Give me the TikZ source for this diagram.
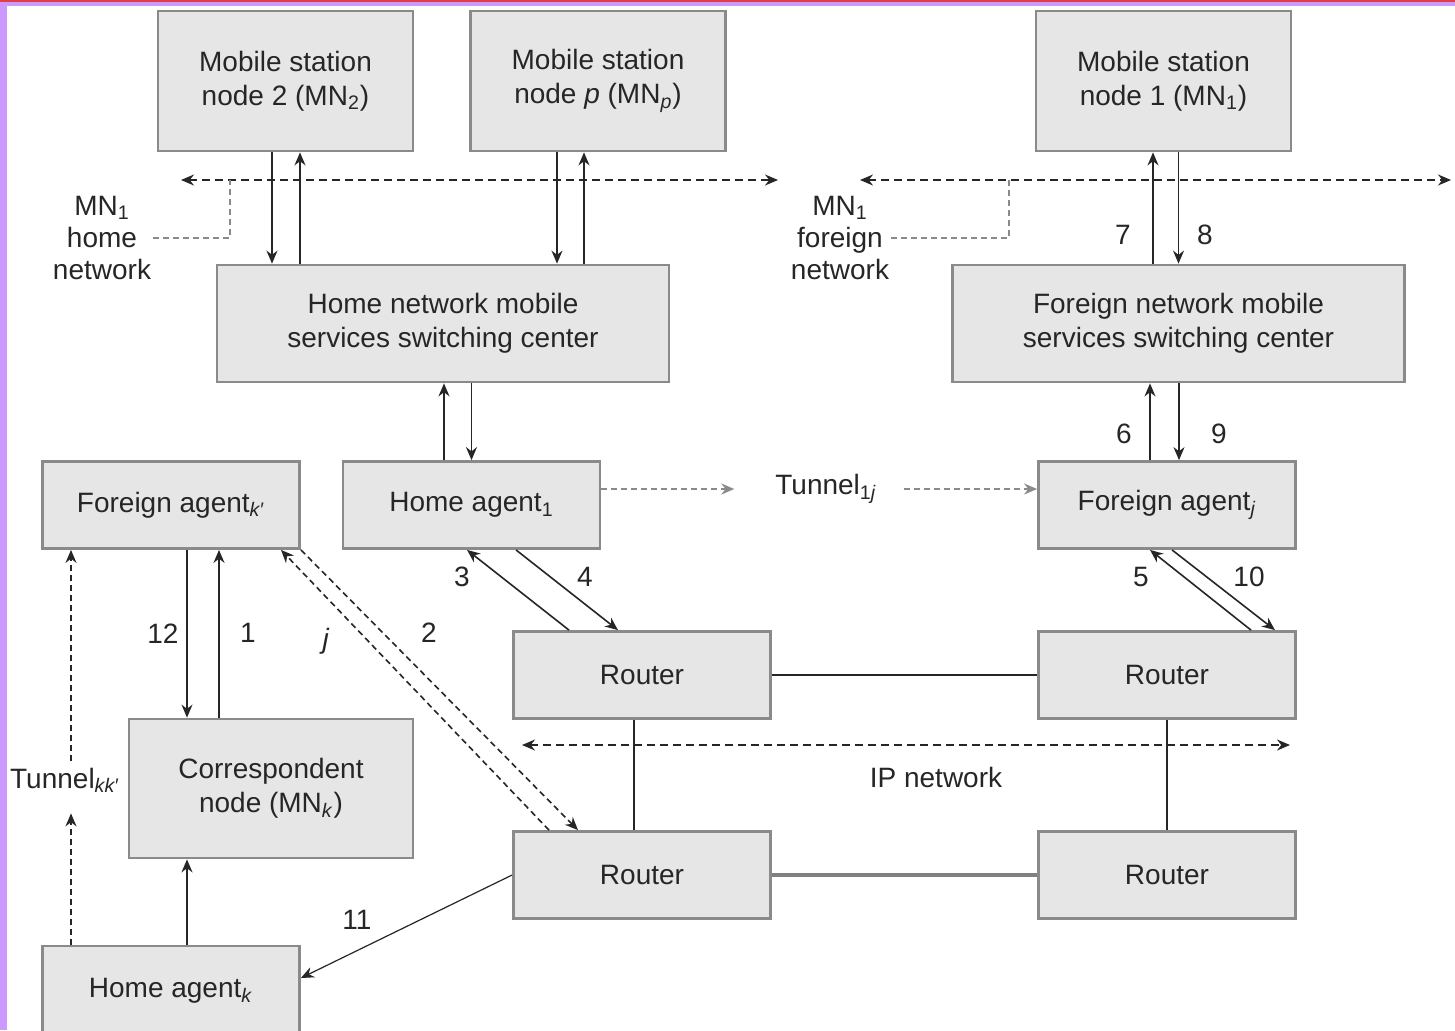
\documentclass[tikz,border=0pt]{standalone}
\usepackage{fontspec}
\setmainfont{Liberation Sans}
\usetikzlibrary{arrows.meta}
\definecolor{boxfill}{HTML}{E6E6E6}
\definecolor{boxline}{HTML}{8A8A8A}
\definecolor{ink}{HTML}{262626}
\definecolor{frame}{HTML}{CC99FF}
\definecolor{topline}{HTML}{E0403F}
\begin{document}
\begin{tikzpicture}
	[x=0.5pt,y=-0.5pt,font=\fontsize{14}{17}\selectfont,
	every node/.append style={text=ink},
	blockbox/.style={draw=boxline,line width=1.4pt,fill=boxfill,align=center,inner sep=0pt},
	agent/.style={blockbox,minimum width=128.5pt,minimum height=43.5pt},
	station/.style={blockbox,minimum width=127.5pt,minimum height=70pt},
	msc/.style={blockbox,minimum width=226pt,minimum height=58.5pt},
	netlabel/.style={align=center,inner sep=1pt,font=\fontsize{14}{16}\selectfont},
	flow/.style={-{Stealth[length=6.5pt,width=5.5pt]},line width=0.8pt,draw=ink},
	tunnel/.style={flow,dash pattern=on 3pt off 2pt},
	netspan/.style={{Stealth[length=6.5pt,width=5.5pt]}-{Stealth[length=6.5pt,width=5.5pt]},line width=0.8pt,draw=ink,dash pattern=on 4pt off 2.5pt}]
	\useasboundingbox (0,0) rectangle (1455,1030);
	\fill[white] (0,0) rectangle (1455,1030);
	\fill[frame] (0,0) rectangle (7,1030);
	\fill[frame] (0,0) rectangle (1455,6);
	\fill[topline] (0,0) rectangle (1455,1.5);
	% boxes
	\node[station] (MN2) at (285.5,81) {Mobile station\\node 2 (MN\textsubscript{2})};
	\node[station] (MNp) at (598,81) {Mobile station\\node \textit{p} (MN\textsubscript{\textit{p}})};
	\node[station] (MN1) at (1163.5,81) {Mobile station\\node 1 (MN\textsubscript{1})};
	\node[msc] (HMSC) at (443,323.5) {Home network mobile\\services switching center};
	\node[msc] (FMSC) at (1178.5,323.5) {Foreign network mobile\\services switching center};
	\node[agent] (FAk) at (171,505) {Foreign agent\textsubscript{\textit{k}′}};
	\node[agent] (HA1) at (471.5,505) {Home agent\textsubscript{1}};
	\node[agent] (FAj) at (1167,505) {Foreign agent\textsubscript{\textit{j}}};
	\node[agent] (R1) at (642,675) {Router};
	\node[agent] (R2) at (1167,675) {Router};
	\node[blockbox,minimum width=142pt,minimum height=69.5pt] (CN) at (271,788.5) {Correspondent\\node (MN\textsubscript{\textit{k}})};
	\node[agent] (R3) at (642,875) {Router};
	\node[agent] (R4) at (1167,875) {Router};
	\node[agent,minimum height=45pt] (HAk) at (171,991) {Home agent\textsubscript{\textit{k}}};
	% labels
	\node[netlabel] (homenet) at (102,238) {MN\textsubscript{1}\\home\\network};
	\node[netlabel] (forenet) at (840,238) {MN\textsubscript{1}\\foreign\\network};
	\node (tun1j) at (826,489) {Tunnel\textsubscript{1\textit{j}}};
	\node (tunkk) at (65,780) {Tunnel\textsubscript{\textit{kk}′}};
	\node (ipnet) at (936,777) {IP network};
	\foreach \n/\x/\y in {7/1123/235,8/1205/235,6/1124/434,9/1219/434,3/462/577,4/585/577,
		5/1141/577,10/1249/577,12/163/634,1/248/633,2/429/633,11/357/920}
		\node (n\n) at (\x,\y) {\n};
	\node (nj) at (326,641) {\textit{j}};
	\coordinate (homeL) at (181,180);
	\coordinate (homeR) at (778,180);
	\coordinate (foreL) at (860,180);
	\coordinate (foreR) at (1451,180);
	\coordinate (homeB) at (230,180);
	\coordinate (foreB) at (1009,180);
	\coordinate (ipL) at (522,745);
	\coordinate (ipR) at (1290,745);
	% network extents
	\draw[netspan] (homeL) -- (homeR);
	\draw[netspan] (foreL) -- (foreR);
	\draw[netspan] (ipL) -- (ipR);
	\draw[draw=boxline,line width=0.8pt,dash pattern=on 3pt off 2pt] (homenet.east) -| (homeB);
	\draw[draw=boxline,line width=0.8pt,dash pattern=on 3pt off 2pt] (forenet.east) -| (foreB);
	% stations and switching centers
	\draw[flow] ([xshift=-6.75pt]MN2.south) -- ([xshift=-85.5pt]HMSC.north);
	\draw[flow] ([xshift=-71.5pt]HMSC.north) -- ([xshift=7.25pt]MN2.south);
	\draw[flow] ([xshift=-20.5pt]MNp.south) -- ([xshift=57pt]HMSC.north);
	\draw[flow] ([xshift=70.5pt]HMSC.north) -- ([xshift=-7pt]MNp.south);
	\draw[flow] ([xshift=-12.75pt]FMSC.north) -- ([xshift=-5.25pt]MN1.south);
	\draw[flow] ([xshift=7.5pt]MN1.south) -- (FMSC.north);
	\draw[flow] ([xshift=-13.75pt]HA1.north) -- ([xshift=0.5pt]HMSC.south);
	\draw[flow] ([xshift=14.25pt]HMSC.south) -- (HA1.north);
	\draw[flow] ([xshift=-8.5pt]FAj.north) -- ([xshift=-14.25pt]FMSC.south);
	\draw[flow] ([xshift=0.25pt]FMSC.south) -- ([xshift=6pt]FAj.north);
	% agents and routers
	\draw[flow] ([xshift=-36.5pt]R1.north) -- ([xshift=-2.25pt]HA1.south);
	\draw[flow] ([xshift=22.25pt]HA1.south) -- ([xshift=-12pt]R1.north);
	\draw[flow] ([xshift=42pt]R2.north) -- ([xshift=-8.5pt]FAj.south);
	\draw[flow] ([xshift=2.5pt]FAj.south) -- ([xshift=54pt]R2.north);
	\draw[tunnel] ([xshift=-46.5pt]R3.north) -- ([xshift=55pt]FAk.south);
	\draw[tunnel] (FAk.south east) -- ([xshift=-32pt]R3.north);
	\draw[flow] ([xshift=8pt]FAk.south) -- ([xshift=-42pt]CN.north);
	\draw[flow] ([xshift=-26pt]CN.north) -- ([xshift=24pt]FAk.south);
	\draw[flow] ([xshift=8pt]HAk.north) -- ([xshift=-42pt]CN.south);
	\draw[flow,line width=0.6pt] (R3.west) -- ([yshift=6.5pt]HAk.east);
	\draw[tunnel] ([xshift=-50pt]HAk.north) -- ([xshift=3pt,yshift=-7pt]tunkk.south);
	\draw[tunnel] ([xshift=3pt]tunkk.north) -- ([xshift=-50pt]FAk.south);
	\draw[tunnel,draw=boxline,shorten >=17pt] ([yshift=8pt]HA1.east) -- (tun1j.west);
	\draw[tunnel,draw=boxline,shorten <=10pt] (tun1j.east) -- ([yshift=8pt]FAj.west);
	% IP network links
	\draw[line width=1.2pt,draw=ink] (R1) -- (R2);
	\draw[line width=1pt,draw=ink] ([xshift=-4pt]R1.south) -- ([xshift=-4pt]R3.north);
	\draw[line width=1pt,draw=ink] (R2) -- (R4);
	\draw[line width=2pt,draw=gray] (R3) -- (R4);
\end{tikzpicture}
\end{document}
